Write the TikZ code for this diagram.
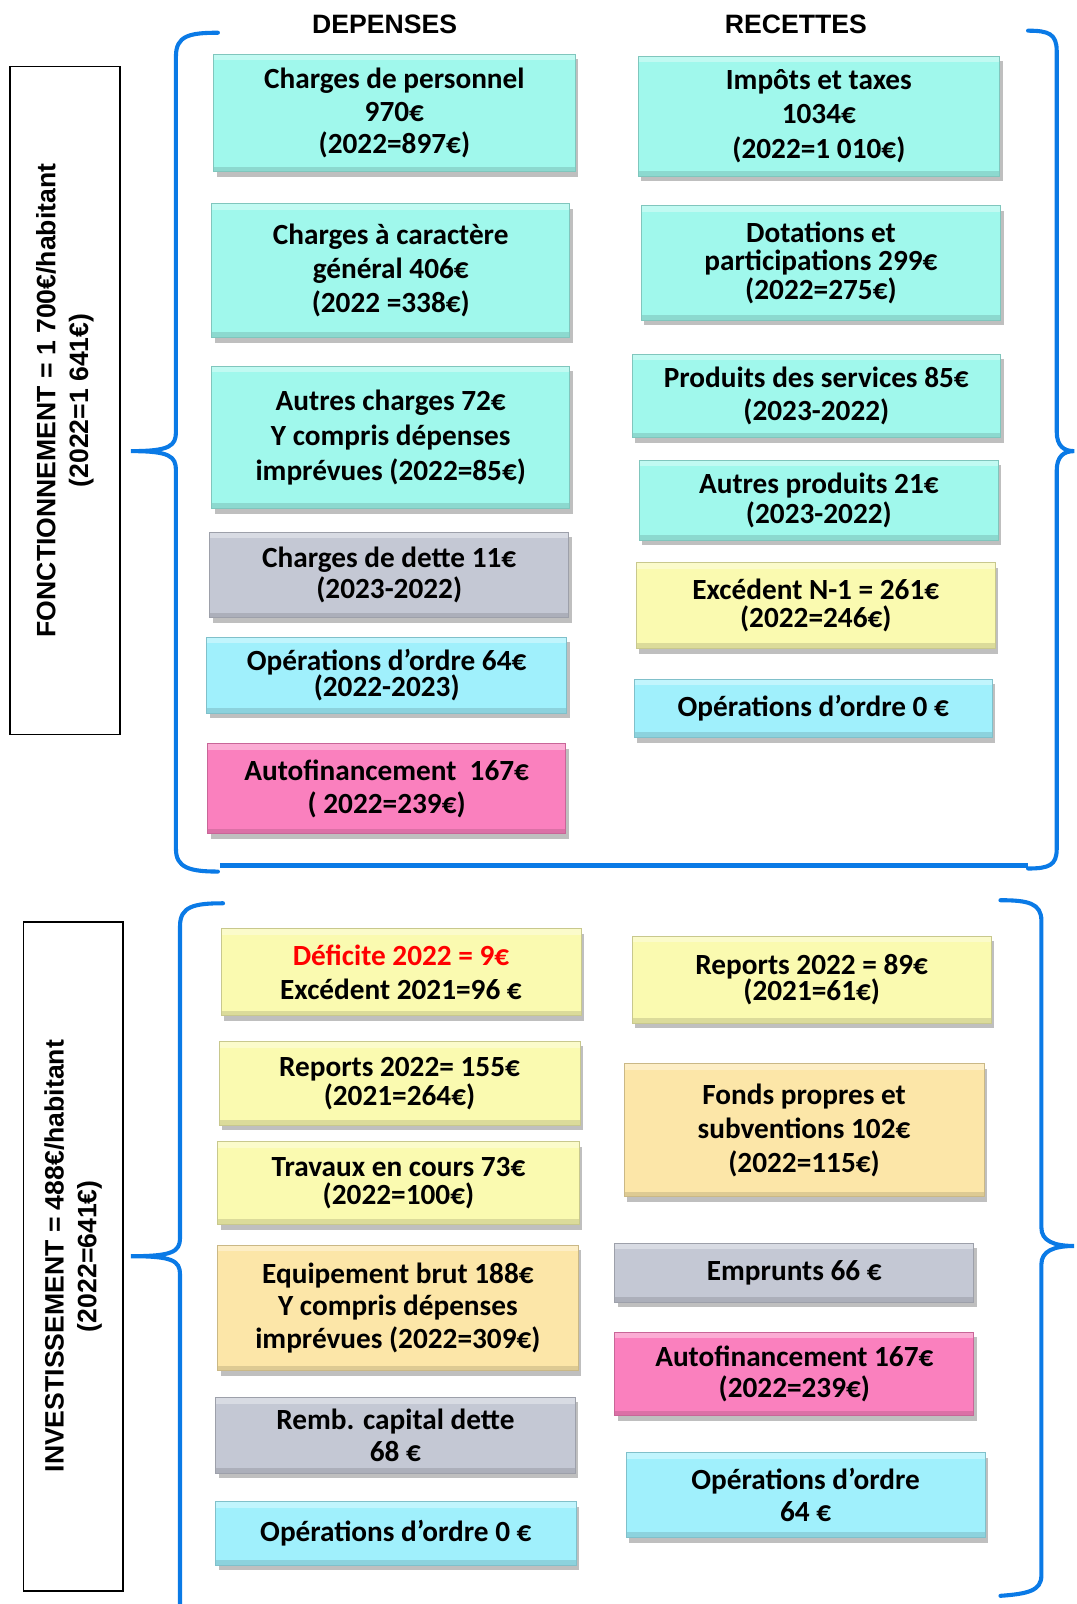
\documentclass[tikz,border=0pt]{standalone}
\usepackage{fontspec}
\newfontfamily\boxfont{Carlito}
\newfontfamily\hdfont{Liberation Sans}
\usetikzlibrary{shadows}
\definecolor{bcyan}{HTML}{A0F8EC}
\definecolor{blblue}{HTML}{A0F0FC}
\definecolor{bgrey}{HTML}{C4C8D4}
\definecolor{bpink}{HTML}{FA80BE}
\definecolor{byellow}{HTML}{FAFAB0}
\definecolor{borange}{HTML}{FCE6A8}
\definecolor{braceblue}{HTML}{0A7AE6}
\tikzset{
  bx/.style={rectangle, fill=#1, draw=#1!80!black, line width=0.4pt, inner sep=0pt, align=center, text=black,
    drop shadow={shadow xshift=1.5pt, shadow yshift=-2.5pt, opacity=0.25, fill=black},
    path picture={
      \fill[white, opacity=0.35] (path picture bounding box.north west) rectangle ([yshift=-3pt]path picture bounding box.north east);
      \fill[black, opacity=0.12] (path picture bounding box.south west) rectangle ([yshift=2.5pt]path picture bounding box.south east);
    }},
  ls/.style={font=\boxfont\bfseries\fontsize{14.3}{#1}\selectfont},
  brace/.style={draw=braceblue, line width=2pt, line cap=round},
  hdr/.style={font=\hdfont\bfseries\fontsize{13}{16}\selectfont},
  side/.style={draw=black, line width=0.8pt, align=center, inner sep=0pt},
}
\newcommand\bx[8]{%
  \node[bx=#6, ls=#7, minimum width={(#4-#2)*0.5pt}, minimum height={(#5-#3)*0.5pt}] (#1) at ({(#2+#4)/2},{(#3+#5)/2}) {#8};}
\begin{document}
\begin{tikzpicture}[x=0.5pt,y=-0.5pt]
\useasboundingbox (0,0) rectangle (1052,1568);
% headers
\node[hdr] (dep) at (376,24) {DEPENSES};
\node[hdr] (rec) at (778,24) {RECETTES};
% side labels
\node[side, hdr, rotate=90, minimum width=326.5pt, minimum height=53.5pt] (fonc) at (63.5,391.5)
  {FONCTIONNEMENT = 1 700€/habitant\\(2022=1 641€)};
\node[side, hdr, rotate=90, minimum width=327pt, minimum height=48.5pt] (inv) at (71.5,1228)
  {INVESTISSEMENT = 488€/habitant\\(2022=641€)};
% braces top
\draw[brace] (213,32) .. controls (185,32) and (172,35) .. (172,55) -- (172,422)
  .. controls (172,436) and (166,441) .. (128,441)
  .. controls (166,441) and (172,446) .. (172,460) -- (172,830)
  .. controls (172,848) and (185,852) .. (213,852);
\draw[brace] (1005,30) .. controls (1025,30) and (1033,33) .. (1033,50) -- (1033,422)
  .. controls (1033,436) and (1040,441) .. (1050,441)
  .. controls (1040,441) and (1033,446) .. (1033,460) -- (1033,830)
  .. controls (1033,846) and (1025,849) .. (1005,849);
\draw[draw=braceblue, line width=2.6pt] (215,846) -- (1005,846);
% braces bottom
\draw[brace] (218,883) .. controls (190,883) and (176,886) .. (176,905) -- (176,1210)
  .. controls (176,1224) and (168,1228) .. (128,1228)
  .. controls (168,1228) and (176,1232) .. (176,1246) -- (176,1575);
\draw[brace] (978,880) .. controls (1005,880) and (1018,883) .. (1018,900) -- (1018,1200)
  .. controls (1018,1213) and (1030,1218) .. (1050,1218)
  .. controls (1030,1218) and (1018,1223) .. (1018,1236) -- (1018,1540)
  .. controls (1018,1555) and (1005,1558) .. (978,1560);
% top left
\bx{cp}{209}{53}{562}{168}{bcyan}{15.8}{Charges de personnel\\970€\\(2022=897€)}
\bx{cg}{207}{199}{557}{330}{bcyan}{16.8}{Charges à caractère\\général 406€\\(2022 =338€)}
\bx{ac}{207}{358}{557}{497}{bcyan}{17}{Autres charges 72€\\Y compris dépenses\\imprévues (2022=85€)}
\bx{cd}{205}{520}{556}{604}{bgrey}{15.5}{Charges de dette 11€\\(2023-2022)}
\bx{od}{202}{623}{554}{697}{blblue}{13}{Opérations d’ordre 64€\\(2022-2023)}
\bx{af}{203}{727}{553}{815}{bpink}{16}{Autofinancement~~167€\\( 2022=239€)}
% top right
\bx{it}{624}{55}{977}{172}{bcyan}{16.8}{Impôts et taxes\\1034€\\(2022=1 010€)}
\bx{dp}{627}{201}{978}{313}{bcyan}{14}{Dotations et\\participations 299€\\(2022=275€)}
\bx{ps}{618}{346}{978}{428}{bcyan}{16}{Produits des services 85€\\(2023-2022)}
\bx{ap}{625}{450}{976}{528}{bcyan}{14.5}{Autres produits 21€\\(2023-2022)}
\bx{ex}{622}{550}{973}{634}{byellow}{14}{Excédent N-1 = 261€\\(2022=246€)}
\bx{or}{620}{664}{970}{721}{blblue}{16}{Opérations d’ordre 0 €}
% bottom left
\bx{de}{216}{908}{568}{993}{byellow}{16.5}{\textcolor{red}{Déficite 2022 = 9€}\\Excédent 2021=96 €}
\bx{rp}{214}{1018}{567}{1100}{byellow}{14}{Reports 2022= 155€\\(2021=264€)}
\bx{tc}{213}{1116}{566}{1197}{byellow}{14}{Travaux en cours 73€\\(2022=100€)}
\bx{eb}{213}{1217}{565}{1340}{borange}{15.8}{Equipement brut 188€\\Y compris dépenses\\imprévues (2022=309€)}
\bx{rc}{211}{1366}{562}{1440}{bgrey}{15.5}{Remb. capital dette\\68 €}
\bx{oz}{211}{1468}{563}{1530}{blblue}{16}{Opérations d’ordre 0 €}
% bottom right
\bx{rq}{618}{915}{969}{1000}{byellow}{13}{Reports 2022 = 89€\\(2021=61€)}
\bx{fp}{610}{1040}{962}{1170}{borange}{16.8}{Fonds propres et\\subventions 102€\\(2022=115€)}
\bx{em}{601}{1215}{952}{1273}{bgrey}{16}{Emprunts 66 €}
\bx{ab}{601}{1302}{952}{1384}{bpink}{15.5}{Autofinancement 167€\\(2022=239€)}
\bx{os}{612}{1420}{963}{1503}{blblue}{15.5}{Opérations d’ordre\\64 €}
\end{tikzpicture}
\end{document}
